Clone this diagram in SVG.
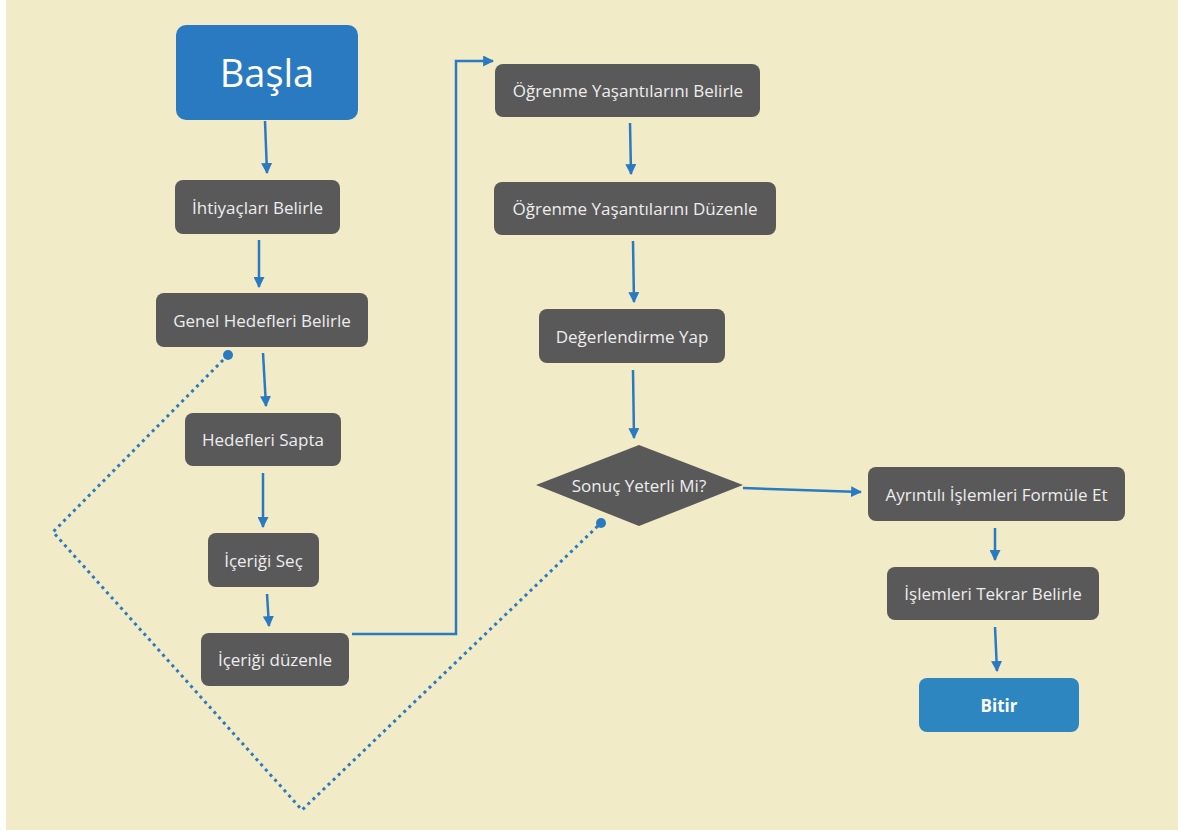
<svg xmlns="http://www.w3.org/2000/svg" width="1178" height="831" viewBox="0 0 1178 831">
<defs>
<marker id="ah" viewBox="0 0 10 10" refX="9" refY="5" markerWidth="11" markerHeight="11" markerUnits="userSpaceOnUse" orient="auto">
<path d="M0,0 L10,5 L0,10 Z" fill="#2A7AC1"/>
</marker>
<style>
.n{fill:#595959;}
.t{fill:#EDEDED;font-family:"Open Sans","Noto Sans","DejaVu Sans",sans-serif;font-size:17px;text-anchor:middle;dominant-baseline:central;}
.c{fill:none;stroke:#2A7AC1;stroke-width:2.5;marker-end:url(#ah);}
.d{fill:none;stroke:#2A7AC1;stroke-width:3;stroke-dasharray:3 4;}
</style>
</defs>
<rect x="0" y="0" width="1178" height="831" fill="#FFFFFF"/>
<rect x="6" y="0" width="1172" height="830" fill="#F2EBC8"/>

<g id="connectors">
<line class="c" x1="265" y1="121" x2="267" y2="173"/>
<line class="c" x1="259" y1="240" x2="259" y2="287"/>
<line class="c" x1="263" y1="353" x2="266" y2="406"/>
<line class="c" x1="263" y1="473" x2="263" y2="527"/>
<line class="c" x1="267" y1="594" x2="269" y2="626"/>
<polyline class="c" points="352,634 456,634 456,61 493,61"/>
<line class="c" x1="630" y1="123" x2="631" y2="174"/>
<line class="c" x1="633" y1="241" x2="634" y2="302"/>
<line class="c" x1="633" y1="370" x2="634" y2="438"/>
<line class="c" x1="743" y1="488" x2="861" y2="492"/>
<line class="c" x1="995" y1="528" x2="995" y2="560"/>
<line class="c" x1="995" y1="627" x2="997" y2="671"/>
<polyline class="d" points="228,355 53,532 302,810 601,523"/>
<circle cx="228" cy="355" r="5" fill="#2A7AC1"/>
<circle cx="601" cy="523" r="5" fill="#2A7AC1"/>
</g>

<g id="basla">
<rect x="176" y="25" width="182" height="95" rx="10" fill="#2A7AC1"/>
<text x="267" y="72" fill="#FFFFFF" font-family="'Open Sans','Noto Sans',sans-serif" font-size="38" text-anchor="middle" dominant-baseline="central">Başla</text>
</g>
<g id="ihtiyaclari">
<rect class="n" x="175" y="180" width="165" height="54" rx="8"/>
<text class="t" x="257.5" y="207">İhtiyaçları Belirle</text>
</g>
<g id="genel">
<rect class="n" x="156" y="293" width="212" height="54" rx="8"/>
<text class="t" x="262" y="320">Genel Hedefleri Belirle</text>
</g>
<g id="hedefleri">
<rect class="n" x="185" y="413" width="156" height="53" rx="8"/>
<text class="t" x="263" y="439.5">Hedefleri Sapta</text>
</g>
<g id="icerigi-sec">
<rect class="n" x="208" y="533" width="111" height="54" rx="8"/>
<text class="t" x="263.5" y="560">İçeriği Seç</text>
</g>
<g id="icerigi-duzenle">
<rect class="n" x="201" y="633" width="148" height="53" rx="8"/>
<text class="t" x="275" y="659.5">İçeriği düzenle</text>
</g>
<g id="ogrenme-belirle">
<rect class="n" x="495" y="64" width="265" height="53" rx="8"/>
<text class="t" x="628" y="90.5">Öğrenme Yaşantılarını Belirle</text>
</g>
<g id="ogrenme-duzenle">
<rect class="n" x="494" y="182" width="282" height="53" rx="8"/>
<text class="t" x="635" y="208.5">Öğrenme Yaşantılarını Düzenle</text>
</g>
<g id="degerlendirme">
<rect class="n" x="539" y="309" width="186" height="54" rx="8"/>
<text class="t" x="632" y="336">Değerlendirme Yap</text>
</g>
<g id="sonuc">
<polygon class="n" points="536,485 639,445 743,485 639,526"/>
<text class="t" x="639" y="485">Sonuç Yeterli Mi?</text>
</g>
<g id="ayrintili">
<rect class="n" x="868" y="467" width="257" height="54" rx="8"/>
<text class="t" x="996.5" y="494">Ayrıntılı İşlemleri Formüle Et</text>
</g>
<g id="islemleri">
<rect class="n" x="887" y="567" width="212" height="53" rx="8"/>
<text class="t" x="993" y="593.5">İşlemleri Tekrar Belirle</text>
</g>
<g id="bitir">
<rect x="919" y="678" width="160" height="54" rx="8" fill="#2E86C1"/>
<text class="t" x="999" y="705" style="fill:#FFFFFF;font-weight:bold">Bitir</text>
</g>
</svg>
